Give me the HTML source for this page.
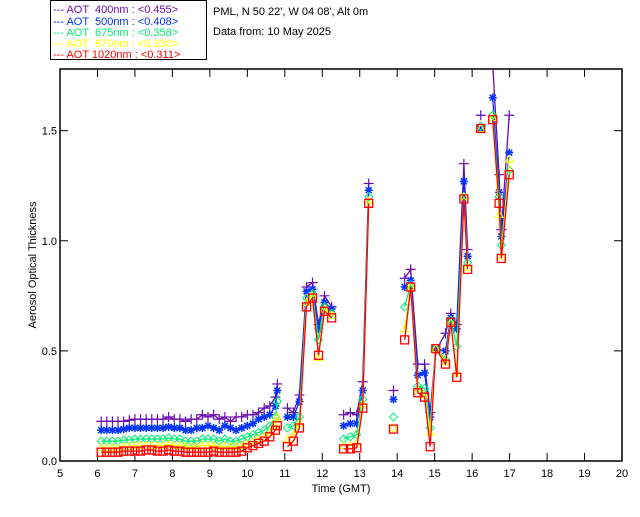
<!DOCTYPE html>
<html><head><meta charset="utf-8"><style>
body{margin:0;background:#fff;}
svg text{font-family:"Liberation Sans",sans-serif;font-size:11px;white-space:pre;}
</style></head><body>
<svg id="chart" width="640" height="512" xmlns="http://www.w3.org/2000/svg">
<rect width="640" height="512" fill="#fff"/>
<g>
<rect x="50.5" y="0.5" width="156" height="59" fill="#fff" stroke="#000"/>
<g font-size="11">
<text x="53" y="13" fill="#6a0dad" xml:space="preserve">--- AOT  400nm : &lt;0.455&gt;</text>
<text x="53" y="25" fill="#0033ff" xml:space="preserve">--- AOT  500nm : &lt;0.408&gt;</text>
<text x="53" y="36" fill="#00ee77" xml:space="preserve">--- AOT  675nm : &lt;0.358&gt;</text>
<text x="53" y="47" fill="#ffff00" xml:space="preserve">--- AOT  870nm : &lt;0.330&gt;</text>
<text x="53" y="58" fill="#ff0000" xml:space="preserve">--- AOT 1020nm : &lt;0.311&gt;</text>
</g></g>
<text x="213" y="15" fill="#000">PML, N 50 22', W 04 08', Alt 0m</text>
<text x="213" y="35" fill="#000">Data from: 10 May 2025</text>
<g id="axes"></g>
<g id="marks"></g>
</svg>
<script>
const times=[6.1,6.25,6.4,6.55,6.7,6.85,7.0,7.15,7.3,7.45,7.6,7.75,7.9,8.05,8.2,8.35,8.5,8.65,8.8,8.95,9.1,9.25,9.4,9.55,9.7,9.85,10.0,10.15,10.3,10.45,10.6,10.75,10.8,
null,11.07,11.23,11.39,11.58,11.74,11.9,12.06,12.25,
null,12.57,12.75,12.92,13.08,13.24,
null,13.9,
null,14.2,14.36,14.55,14.73,14.88,15.03,15.29,15.43,15.59,15.78,15.88,
null,16.23,
null,16.55,16.72,16.78,16.99];
const aot400=[0.18,0.18,0.18,0.18,0.18,0.185,0.19,0.19,0.19,0.19,0.19,0.19,0.2,0.19,0.19,0.18,0.19,0.19,0.21,0.2,0.21,0.19,0.2,0.18,0.2,0.2,0.21,0.21,0.22,0.24,0.25,0.29,0.35,
null,0.24,0.22,0.3,0.79,0.81,0.62,0.75,0.70,
null,0.21,0.22,0.21,0.36,1.26,
null,0.32,
null,0.83,0.87,0.44,0.44,0.22,0.5,0.58,0.67,0.62,1.35,0.96,
null,1.57,
null,1.8,1.3,1.05,1.57];
const aot500=[0.14,0.14,0.14,0.14,0.145,0.15,0.15,0.15,0.15,0.15,0.15,0.15,0.155,0.15,0.15,0.14,0.14,0.15,0.15,0.16,0.15,0.14,0.16,0.15,0.14,0.15,0.16,0.17,0.19,0.2,0.21,0.25,0.32,
null,0.2,0.2,0.27,0.77,0.78,0.6,0.72,0.69,
null,0.16,0.17,0.17,0.32,1.23,
null,0.28,
null,0.79,0.82,0.39,0.4,0.2,0.51,0.5,0.65,0.6,1.27,0.93,
null,1.51,
null,1.65,1.22,1.02,1.4];
const aot675=[0.09,0.09,0.09,0.09,0.095,0.095,0.1,0.1,0.1,0.1,0.1,0.1,0.105,0.1,0.1,0.09,0.09,0.09,0.1,0.1,0.1,0.09,0.1,0.09,0.09,0.1,0.11,0.12,0.13,0.14,0.16,0.2,0.27,
null,0.15,0.16,0.2,0.74,0.76,0.55,0.7,0.67,
null,0.1,0.11,0.12,0.28,1.2,
null,0.2,
null,0.7,0.8,0.34,0.33,0.15,0.51,0.46,0.64,0.52,1.2,0.9,
null,1.52,
null,1.57,1.2,0.98,1.32];
const aot870=[0.06,0.06,0.06,0.06,0.065,0.065,0.07,0.07,0.07,0.07,0.07,0.07,0.075,0.07,0.07,0.065,0.065,0.065,0.07,0.07,0.07,0.065,0.065,0.065,0.065,0.07,0.08,0.09,0.1,0.11,0.13,0.16,0.2,
null,0.1,0.12,0.17,0.72,0.75,0.47,0.69,0.66,
null,0.07,0.07,0.08,0.26,1.18,
null,0.15,
null,0.6,0.79,0.32,0.3,0.13,0.51,0.45,0.63,0.4,1.2,0.88,
null,1.51,
null,1.56,1.12,0.93,1.37];
const aot1020=[0.04,0.04,0.04,0.04,0.045,0.045,0.045,0.045,0.05,0.05,0.045,0.045,0.05,0.045,0.045,0.04,0.04,0.04,0.04,0.04,0.045,0.04,0.04,0.04,0.04,0.045,0.06,0.07,0.08,0.09,0.11,0.14,0.16,
null,0.065,0.09,0.15,0.70,0.74,0.48,0.68,0.65,
null,0.055,0.055,0.06,0.24,1.17,
null,0.145,
null,0.55,0.79,0.31,0.29,0.065,0.51,0.44,0.63,0.38,1.19,0.87,
null,1.51,
null,1.55,1.17,0.92,1.3];
const xTicks=[5,6,7,8,9,10,11,12,13,14,15,16,17,18,19,20];
const yTicks=[0.0,0.5,1.0,1.5];

const X0=60,X1=622,Y0=461,Y1=69,XMIN=5,XMAX=20,YMIN=0,YMAX=1.78;
const xs=v=>X0+(v-XMIN)/(XMAX-XMIN)*(X1-X0);
const ys=v=>Y0-(v-YMIN)/(YMAX-YMIN)*(Y0-Y1);
const NS="http://www.w3.org/2000/svg";
function mk(tag,attrs,parent){const e=document.createElementNS(NS,tag);for(const k in attrs)e.setAttribute(k,attrs[k]);parent.appendChild(e);return e;}
const axes=document.getElementById('axes');
const frame=mk('rect',{x:X0,y:Y1,width:X1-X0,height:Y0-Y1,fill:'none',stroke:'#000','stroke-width':1.5},axes);


xTicks.forEach(t=>{const x=xs(t);
 mk('line',{x1:x,x2:x,y1:Y0,y2:Y0-8,stroke:'#000'},axes);
 mk('line',{x1:x,x2:x,y1:Y1,y2:Y1+8,stroke:'#000'},axes);
 const tx=mk('text',{x:x,y:Y0+16,'text-anchor':'middle'},axes);tx.textContent=String(t);
 
 
});
yTicks.forEach(t=>{const y=ys(t);
 mk('line',{x1:X0,x2:X0+8,y1:y,y2:y,stroke:'#000'},axes);
 mk('line',{x1:X1,x2:X1-8,y1:y,y2:y,stroke:'#000'},axes);
 const tx=mk('text',{x:X0-3,y:y+4,'text-anchor':'end'},axes);tx.textContent=t.toFixed(1);
 
 
});
const xt=mk('text',{x:(X0+X1)/2,y:Y0+31,'text-anchor':'middle'},axes);xt.textContent='Time (GMT)';


const yt=mk('text',{x:0,y:0,'text-anchor':'middle',transform:`translate(36,${(Y0+Y1)/2}) rotate(-90)`,'font-size':10},axes);yt.textContent='Aerosol Optical Thickness';



const marks=document.getElementById('marks');
const clip=mk('clipPath',{id:'pc'},marks);mk('rect',{x:X0,y:Y1,width:X1-X0,height:Y0-Y1},clip);
const series=[[aot400,'#6a0dad','plus'],[aot500,'#0033ff','star'],[aot675,'#00ee77','diamond'],[aot870,'#ffff00','tri'],[aot1020,'#ff0000','square']];
series.forEach(([vals,col,m],si)=>{
 const g=mk('g',{'clip-path':'url(#pc)'},marks);
 
 
 let d='',pen=false;
 times.forEach((t,i)=>{const v=vals[i];if(t===null||v===null){pen=false;return;}
  d+=(pen?'L':'M')+xs(t).toFixed(1)+' '+ys(v).toFixed(1);pen=true;});
 mk('path',{d:d,fill:'none',stroke:col,'stroke-width':1.3},g);
 times.forEach((t,i)=>{const v=vals[i];if(t===null||v===null)return;
  const x=xs(t),y=ys(v);let e;
  if(m==='plus')e=mk('path',{d:`M${x-5} ${y}H${x+5}M${x} ${y-5}V${y+5}`,stroke:col,fill:'none','stroke-width':1.2},g);
  else if(m==='star')e=mk('path',{d:`M${x-4} ${y}H${x+4}M${x} ${y-4}V${y+4}M${x-3} ${y-3}L${x+3} ${y+3}M${x-3} ${y+3}L${x+3} ${y-3}`,stroke:col,fill:'none','stroke-width':1.5},g);
  else if(m==='diamond')e=mk('path',{d:`M${x} ${y-4}L${x+4} ${y}L${x} ${y+4}L${x-4} ${y}Z`,stroke:col,fill:'none'},g);
  else if(m==='tri')e=mk('path',{d:`M${x} ${y-4}L${x+4} ${y+3}L${x-4} ${y+3}Z`,stroke:col,fill:'none'},g);
  else e=mk('rect',{x:x-4,y:y-4,width:8,height:8,stroke:col,fill:'none','stroke-width':1.3},g);
  
  
 });
});
</script>
</body></html>
